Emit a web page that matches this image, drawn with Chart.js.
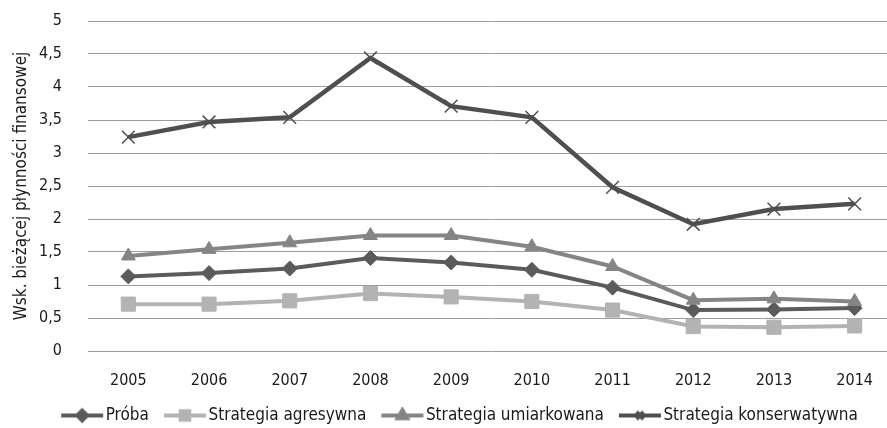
<!DOCTYPE html>
<html>
<head>
<meta charset="utf-8">
<script src="https://cdn.jsdelivr.net/npm/chart.js@4.4.1/dist/chart.umd.min.js"></script>
<style>
  html, body { margin: 0; padding: 0; background: #fff; width: 887px; height: 428px; overflow: hidden; }
  #wrap { width: 920px; height: 428px; }
</style>
</head>
<body>
<div id="wrap"><canvas id="c" width="920" height="428"></canvas></div>
<script>
// Lata i wartości wskaźnika bieżącej płynności finansowej
const years = ['2005', '2006', '2007', '2008', '2009', '2010', '2011', '2012', '2013', '2014'];
const proba = [1.13, 1.18, 1.25, 1.41, 1.34, 1.23, 0.96, 0.62, 0.63, 0.65];
const agresywna = [0.71, 0.71, 0.76, 0.87, 0.82, 0.75, 0.62, 0.37, 0.36, 0.38];
const umiarkowana = [1.44, 1.54, 1.64, 1.75, 1.75, 1.58, 1.28, 0.77, 0.79, 0.75];
const konserwatywna = [3.24, 3.47, 3.54, 4.44, 3.71, 3.54, 2.48, 1.92, 2.15, 2.23];
const seriesNames = ['Próba', 'Strategia agresywna', 'Strategia umiarkowana', 'Strategia konserwatywna'];
const yMin = 0, yMax = 5, yStep = 0.5;
const yTitle = 'Wsk. bieżącej płynności finansowej';

const FONT = '"DejaVu Sans Condensed", "Liberation Sans Narrow", "Liberation Sans", sans-serif';
const TEXT = '#1a1a1a';

// Ikona legendy: odcinek linii (42 px) z markerem serii pośrodku.
// Obraz jest szerszy i przezroczysty po bokach, żeby odcinek zaczynał się na początku pozycji.
function legendIcon(ds) {
  const cv = document.createElement('canvas');
  cv.width = 84; cv.height = 18;
  const ctx = cv.getContext('2d');
  const x0 = 24, x1 = 66, cy = 9;
  ctx.strokeStyle = ds.borderColor;
  ctx.lineWidth = 4;
  ctx.beginPath(); ctx.moveTo(x0, cy); ctx.lineTo(x1, cy); ctx.stroke();
  ctx.fillStyle = ds.pointBackgroundColor;
  ctx.strokeStyle = ds.pointBorderColor;
  Chart.helpers.drawPoint(ctx, {
    pointStyle: ds.pointStyle,
    radius: ds.legendRadius,
    rotation: 0,
    borderWidth: ds.pointBorderWidth
  }, (x0 + x1) / 2, cy);
  return cv;
}

const datasets = [
  { label: seriesNames[0], data: proba, borderColor: '#5b5b5b', borderWidth: 4,
    pointStyle: 'rectRot', pointRadius: 7.5, pointBackgroundColor: '#5b5b5b', pointBorderColor: '#5b5b5b',
    pointBorderWidth: 1, legendRadius: 5, order: 4 },
  { label: seriesNames[1], data: agresywna, borderColor: '#b3b3b3', borderWidth: 4,
    pointStyle: 'rect', pointRadius: 10, pointBackgroundColor: '#b3b3b3', pointBorderColor: '#b3b3b3',
    pointBorderWidth: 1, legendRadius: 6, order: 3 },
  { label: seriesNames[2], data: umiarkowana, borderColor: '#858585', borderWidth: 4,
    pointStyle: 'triangle', pointRadius: 8, pointBackgroundColor: '#858585', pointBorderColor: '#858585',
    pointBorderWidth: 1, legendRadius: 5.5, order: 2 },
  { label: seriesNames[3], data: konserwatywna, borderColor: '#4f4f4f', borderWidth: 4.5,
    pointStyle: 'crossRot', pointRadius: 9, pointBackgroundColor: '#4f4f4f', pointBorderColor: '#4f4f4f',
    pointBorderWidth: 1.5, legendRadius: 5, order: 1 }
];
datasets.forEach(d => { d.tension = 0; d.fill = false; d.pointHoverRadius = d.pointRadius; });

// Legenda wyśrodkowana względem całego płótna, a nie obszaru bez prawego marginesu
const legendShift = {
  id: 'legendShift',
  afterLayout(chart) {
    if (chart.legend) { chart.legend.left += 12; chart.legend.right += 12; }
  }
};

new Chart(document.getElementById('c'), {
  type: 'line',
  data: { labels: years, datasets: datasets },
  plugins: [legendShift],
  options: {
    responsive: false,
    animation: false,
    events: [],
    layout: { padding: { top: 21, right: 25, left: 0, bottom: -6 } },
    plugins: {
      tooltip: { enabled: false },
      legend: {
        position: 'bottom',
        labels: {
          usePointStyle: true,
          pointStyleWidth: 36,
          padding: 15,
          color: TEXT,
          font: { family: FONT, size: 17 },
          generateLabels(chart) {
            return chart.data.datasets.map((ds, i) => ({
              text: ds.label,
              pointStyle: legendIcon(ds),
              fillStyle: ds.borderColor,
              strokeStyle: ds.borderColor,
              lineWidth: 0,
              hidden: false,
              datasetIndex: i,
              fontColor: TEXT
            }));
          }
        }
      }
    },
    scales: {
      x: {
        offset: true,
        grid: { display: false, drawTicks: false, offset: true },
        border: { display: false },
        ticks: { color: TEXT, font: { family: FONT, size: 16 }, padding: 20, maxRotation: 0 },
        afterFit(scale) { scale.height = 41; }
      },
      y: {
        min: yMin, max: yMax,
        grid: { color: '#9c9c9c', lineWidth: 1, drawTicks: false },
        border: { display: false },
        ticks: {
          stepSize: yStep, color: TEXT, padding: 26,
          font: { family: FONT, size: 16 },
          callback: v => String(v).replace('.', ',')
        },
        title: { display: true, text: yTitle, color: TEXT, font: { family: FONT, size: 17 }, padding: { top: 11, bottom: 0 } },
        // stała szerokość osi; odstęp etykiet od siatki nie powiększa marginesu w pionie
        afterFit(scale) { scale.width = 88; scale.paddingTop = 0; scale.paddingBottom = 0; }
      }
    }
  }
});
</script>
</body>
</html>
